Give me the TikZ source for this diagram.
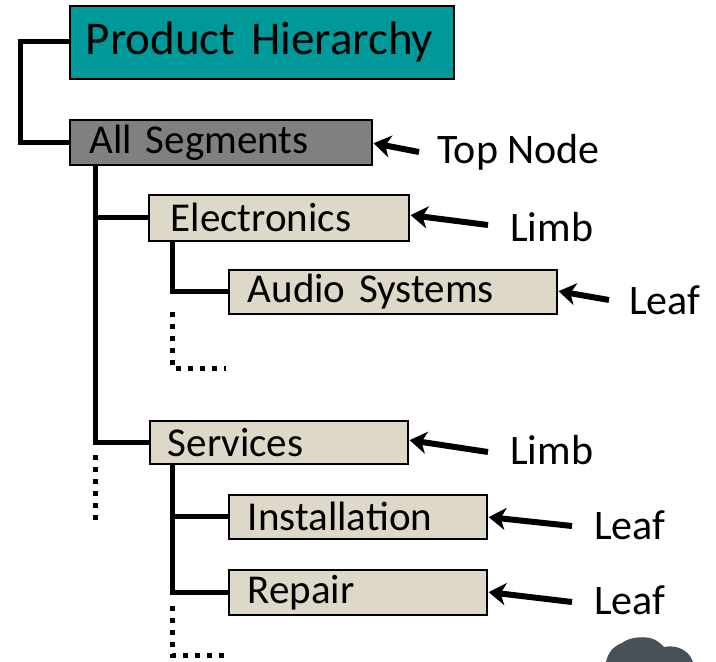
\documentclass[tikz,border=0pt]{standalone}
\usepackage{fontspec}
\setmainfont{Carlito}
\usetikzlibrary{arrows.meta, calc}

\definecolor{teal}{RGB}{0,153,153}
\definecolor{segment}{RGB}{128,128,128}
\definecolor{tan}{RGB}{221,216,199}
\definecolor{smudge}{RGB}{74,80,88}

\tikzset{
  box/.style = {draw, line width=1.6pt, anchor=north west, align=left,
                inner ysep=0pt, font=\fontsize{41}{44}\selectfont},
  tag/.style = {anchor=west, inner sep=0pt, font=\fontsize{42}{44}\selectfont},
  branch/.style = {line width=5pt},
  stub/.style = {line width=5pt, dash pattern=on 5pt off 7pt},
  pointer/.style = {line width=6pt, -{Stealth[width=22pt,length=17pt,inset=5pt]}, shorten >=1pt}
}

\begin{document}
\begin{tikzpicture}[x=1pt, y=-1pt]
\useasboundingbox (0,0) rectangle (716,662);

\node (ph) [box, fill=teal, text width=352pt, inner xsep=16pt, minimum height=73pt,
  font=\fontsize{47}{50}\selectfont] at (69,5) {Product Hierarchy};
\node (all) [box, fill=segment, text width=262pt, inner xsep=20pt, minimum height=45pt] at (69,119) {All Segments};

% first limb
\node (elec) [box, fill=tan, text width=216pt, inner xsep=22pt, minimum height=46pt] at (148,194) {Electronics};
\node (audio) [box, fill=tan, text width=290pt, inner xsep=19pt, minimum height=44pt] at (228,269) {Audio Systems};

% second limb
\node (serv) [box, fill=tan, text width=222pt, inner xsep=18pt, minimum height=43pt] at (149,420) {Services};
\node (inst) [box, fill=tan, text width=220pt, inner xsep=19pt, minimum height=44pt] at (228,494) {Installation};
\node (rep) [box, fill=tan, text width=220pt, inner xsep=19pt, minimum height=45pt] at (228,569) {Repair};

% labels
\node (top) [tag] at (437,152) {Top Node};
\node (limb1) [tag] at (510,227) {Limb};
\node (leaf1) [tag] at (629,300) {Leaf};
\node (limb2) [tag] at (510,450) {Limb};
\node (leaf2) [tag] at (594,525) {Leaf};
\node (leaf3) [tag] at (594,600) {Leaf};

% tree lines
\coordinate (t0) at (20,41);
\coordinate (t1) at (95,164);
\coordinate (t2) at (172,240);
\coordinate (t3) at (172,463);

\draw [branch] (ph.west |- t0) -- (t0) -- (t0 |- all.west) -- (all.west);
\draw [branch] (t1) -- (t1 |- serv.west) -- (serv.west);
\draw [branch] (t1 |- elec.west) -- (elec.west);
\draw [stub] (t1 |- 0,455) -- (t1 |- 0,520);
\draw [branch] (t2) -- (t2 |- audio.west) -- (audio.west);
\draw [stub] (t2 |- 0,312) -- (t2 |- 0,368) -- (226,368);
\draw [branch] (t3) -- (t3 |- rep.west) -- (rep.west);
\draw [branch] (t3 |- inst.west) -- (inst.west);
\draw [stub] (t3 |- 0,606) -- (t3 |- 0,655) -- (226,655);

% pointers
\draw [pointer] (top.west) ++(-18,0) -- (all.east |- 0,143);
\draw [pointer] (limb1.west) ++(-22,-2) -- (elec.east |- 0,215);
\draw [pointer] (leaf1.west) ++(-20,0) -- (audio.east |- 0,291);
\draw [pointer] (limb2.west) ++(-22,2) -- (serv.east |- 0,440);
\draw [pointer] (leaf2.west) ++(-22,1) -- (inst.east |- 0,517);
\draw [pointer] (leaf3.west) ++(-22,2) -- (rep.east |- 0,592);

% smudge in the corner
\fill [smudge] (606,662) .. controls (608,652) and (614,646) .. (622,643)
  .. controls (628,638) and (640,636) .. (650,638)
  .. controls (658,640) and (662,645) .. (664,647)
  .. controls (674,645) and (684,648) .. (690,656)
  -- (693,662) -- cycle;
\end{tikzpicture}
\end{document}
